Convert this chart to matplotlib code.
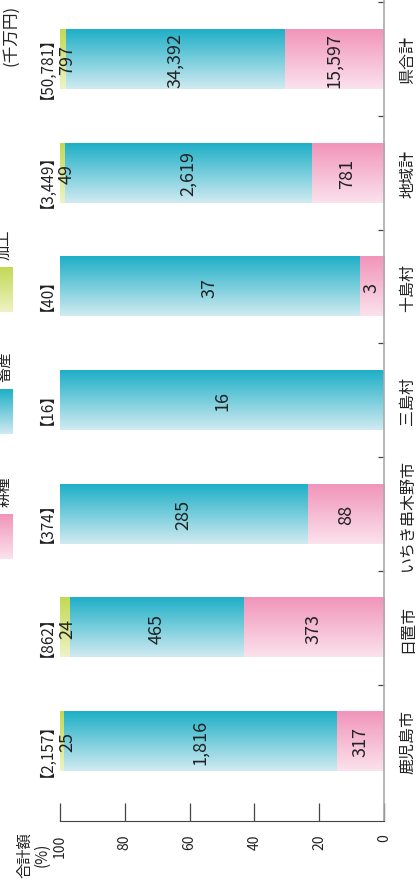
import numpy as np
import matplotlib.pyplot as plt
from matplotlib.colors import LinearSegmentedColormap

plt.rcParams['font.family'] = ['Noto Sans CJK JP', 'DejaVu Sans']

# data (千万円)
areas = ['鹿児島市', '日置市', 'いちき串木野市', '三島村', '十島村', '地域計', '県合計']
crops = [317, 373, 88, 0, 3, 781, 15597]              # 耕種
livestock = [1816, 465, 285, 16, 37, 2619, 34392]     # 畜産
processed = [25, 24, 0, 0, 0, 49, 797]                # 加工
totals = [2157, 862, 374, 16, 40, 3449, 50781]        # 合計額
pct_ticks = [0, 20, 40, 60, 80, 100]

series = [
    ('耕種', crops, ('#fbe2ec', '#f195ba')),
    ('畜産', livestock, ('#cfeaf1', '#1fb0c7')),
    ('加工', processed, ('#eef3c4', '#c3d955')),
]

W, H = 417, 895
fig = plt.figure(figsize=(W / 100, H / 100), dpi=100)
ax = fig.add_axes([60 / W, 73 / H, 324 / W, 822 / H])

y = np.arange(len(areas))
seg_sum = np.array(crops) + np.array(livestock) + np.array(processed)
grad = np.linspace(0, 1, 64).reshape(-1, 1)

left = np.zeros(len(areas))
for name, vals, (light, dark) in series:
    pct = np.array(vals) / seg_sum * 100
    bars = ax.barh(y, pct, left=left, height=0.52, color=dark, linewidth=0)
    cmap = LinearSegmentedColormap.from_list(name, [light, dark])
    for b in bars:
        if b.get_width() <= 0:
            continue
        ax.imshow(grad, cmap=cmap, aspect='auto', origin='lower', zorder=2,
                  extent=[b.get_x(), b.get_x() + b.get_width(),
                          b.get_y(), b.get_y() + b.get_height()])
    for i, v in enumerate(vals):
        if v <= 0:
            continue
        if name == '加工':
            ax.annotate(f'{v:,}', xy=(100, i), xytext=(7, 0),
                        textcoords='offset pixels', rotation=90,
                        ha='center', va='center', fontsize=13, color='#222',
                        zorder=4, annotation_clip=False)
        else:
            ax.text(left[i] + pct[i] / 2, i, f'{v:,}', rotation=90,
                    ha='center', va='center', fontsize=13, color='#222', zorder=4)
    left += pct

for i, t in enumerate(totals):
    ax.annotate(f'【{t:,}】', xy=(100, i), xytext=(-21, 0),
                textcoords='offset pixels', rotation=90, ha='center',
                va='center', fontsize=11, color='#222', annotation_clip=False)

ax.set_xlim(100, 0)
ax.set_ylim(-0.70, 6.53)

ax.spines['top'].set_visible(False)
ax.spines['left'].set_visible(False)
ax.spines['bottom'].set_color('#444')
ax.spines['right'].set_color('#aaaaaa')
ax.spines['right'].set_linewidth(1.2)

ax.set_xticks(pct_ticks)
ax.set_xticklabels([str(t) for t in pct_ticks], rotation=90, fontsize=10, color='#222')
ax.tick_params(axis='x', direction='in', length=13, width=0.9, color='#444', pad=9)

ax.yaxis.tick_right()
ax.set_yticks(y)
ax.set_yticklabels(areas, rotation=90, fontsize=11.5, color='#222', va='center')
ax.set_yticks(y + 0.5, minor=True)
ax.tick_params(axis='y', which='major', length=0, pad=11)
ax.tick_params(axis='y', which='minor', direction='in', length=4, width=0.9, color='#444')

# axis caption and unit
fig.text(33 / W, 1 - 855 / H, '合計額\n(%)', rotation=90, ha='center', va='center',
         fontsize=11, color='#222', linespacing=1.0, multialignment='center')
fig.text(11 / W, 1 - 35 / H, '(千万円)', rotation=90, ha='center', va='center',
         fontsize=12, color='#222')

# legend (partly cut off at the left edge)
ov = fig.add_axes([0, 0, 1, 1], zorder=3)
ov.set_xlim(0, W)
ov.set_ylim(0, H)
ov.axis('off')
legend_pos = [(515, 560), (390, 435), (268, 313)]
for (name, _, (light, dark)), (y0, y1) in zip(series, legend_pos):
    cmap = LinearSegmentedColormap.from_list(name, [light, dark])
    ov.imshow(grad, cmap=cmap, aspect='auto', origin='lower',
              extent=[-2, 13, H - y1, H - y0])
    ov.text(4, H - y0 + 8, name, rotation=90, ha='center', va='bottom',
            fontsize=11, color='#222')
ov.set_xlim(0, W)
ov.set_ylim(0, H)

fig.savefig('out.png', dpi=100)
